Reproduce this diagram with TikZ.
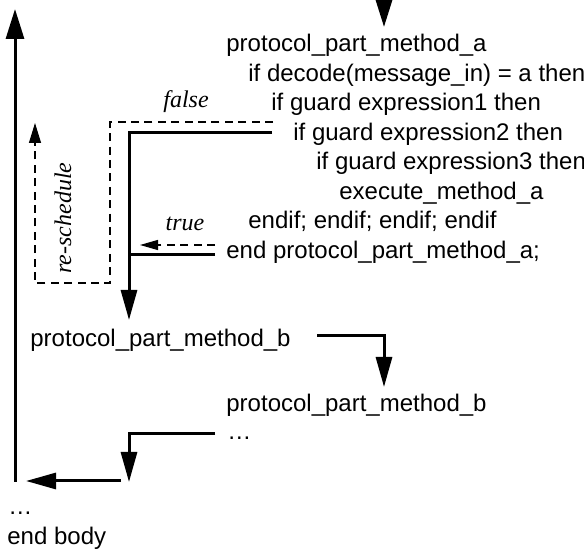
\documentclass[tikz,border=0pt]{standalone}
\usepackage{fontspec}
\setmainfont{Liberation Sans}
\newfontfamily\timesit{Liberation Serif}
\usetikzlibrary{arrows.meta}

\begin{document}
\begin{tikzpicture}[x=0.5pt,y=-0.5pt]
      \tikzstyle{every node}=[inner sep=0pt,anchor=base west,
			      font=\fontsize{12}{14}\selectfont]
      \tikzstyle{flow}=[line width=1.5pt]
      \tikzstyle{loop}=[line width=0.6pt,dash pattern=on 4pt off 2.7pt]
      \tikzstyle{bigtip}=[-{Triangle[length=15pt,width=8pt]}]
      \tikzstyle{tag}=[anchor=base,font=\fontsize{12}{14}\selectfont\timesit\itshape]
      \useasboundingbox (0,0) rectangle (584,549);
      % program text
      \node (line1) at (226,52) {protocol\_part\_method\_a};
      \node (line2) at (248,81.5) {if decode(message\_in) = a then};
      \node (line3) at (271,111) {if guard expression1 then};
      \node (line4) at (293,140.5) {if guard expression2 then};
      \node (line5) at (316,170) {if guard expression3 then};
      \node (line6) at (339,199.5) {execute\_method\_a};
      \node (line7) at (248,229) {endif; endif; endif; endif};
      \node (line8) at (226,258.5) {end protocol\_part\_method\_a;};
      \node (methodb) at (30,347) {protocol\_part\_method\_b};
      \node (methodbb) at (226,412) {protocol\_part\_method\_b};
      \node (dotsb) at (227,440) {…};
      \node (dotsbody) at (8,515) {…};
      \node (endbody) at (7,545) {end body};
      % labels
      \node[tag] (lfalse) at (186,108) {false};
      \node[tag] (ltrue) at (185,231) {true};
      \node[tag,rotate=90] (lresched) at (71,218) {re-schedule};
      % control flow
      \coordinate (topin) at (384,0);
      \coordinate (topout) at (384,27);
      \coordinate (bodylow) at (15,482);
      \coordinate (bodytop) at (15,9);
      \coordinate (rsstart) at (273,122);
      \coordinate (rscorner) at (110,283);
      \coordinate (rsend) at (35,123);
      \coordinate (fstart) at (272,133);
      \coordinate (fend) at (129,320);
      \coordinate (tstart) at (215,245);
      \coordinate (tend) at (140,245);
      \coordinate (ostart) at (215,255);
      \coordinate (oend) at (129,255);
      \coordinate (bstart) at (317,336);
      \coordinate (bend) at (384,387);
      \coordinate (rstart) at (215,434);
      \coordinate (rend) at (129,482);
      \coordinate (lstart) at (121,481);
      \coordinate (lend) at (26,481);
      \draw[flow,-{Triangle[length=13.5pt,width=8pt]}] (topin) -- (topout);
      \draw[flow,-{Triangle[length=15pt,width=9pt]}] (bodylow) -- (bodytop);
      \draw[loop,-{Triangle[length=10pt,width=6pt]}] (rsstart) -| (rscorner) -| (rsend);
      \draw[flow,bigtip] (fstart) -| (fend);
      \draw[loop,-{Triangle[length=9pt,width=5pt]}] (tstart) -- (tend);
      \draw[flow] (ostart) -- (oend);
      \draw[flow,bigtip] (bstart) -| (bend);
      \draw[flow,bigtip] (rstart) -| (rend);
      \draw[flow,bigtip] (lstart) -- (lend);
  \end{tikzpicture}
\end{document}
